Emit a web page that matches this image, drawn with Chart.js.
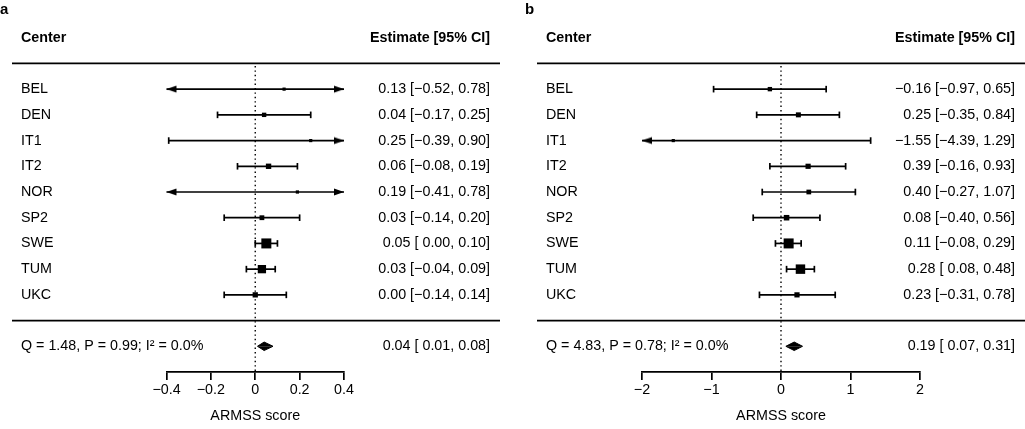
<!DOCTYPE html>
<html lang="en">
<head>
<meta charset="UTF-8">
<title>ARMSS score by center</title>
<script src="https://cdn.jsdelivr.net/npm/chart.js@4.4.1/dist/chart.umd.min.js"></script>
<style>
  body { margin: 0; background: #fff; }
  #wrap { position: relative; width: 1025px; height: 429px; }
  .panel { position: absolute; top: 0; width: 500px; height: 429px; }
  .tag { position: absolute; left: 0; top: 1px; font: bold 15px "Liberation Sans", Arial, sans-serif; line-height: 15px; }
</style>
</head>
<body>
<div id="wrap">
  <div class="panel" style="left:0"><canvas id="chartA" width="500" height="429"></canvas><div class="tag">a</div></div>
  <div class="panel" style="left:525px"><canvas id="chartB" width="500" height="429"></canvas><div class="tag">b</div></div>
</div>
<script>
const centers = ['BEL', 'DEN', 'IT1', 'IT2', 'NOR', 'SP2', 'SWE', 'TUM', 'UKC'];

// panel a
const estA  = [0.13, 0.04, 0.25, 0.06, 0.19, 0.03, 0.05, 0.03, 0.00];
const lowA  = [-0.52, -0.17, -0.39, -0.08, -0.41, -0.14, 0.00, -0.04, -0.14];
const highA = [0.78, 0.25, 0.90, 0.19, 0.78, 0.20, 0.10, 0.09, 0.14];
const pooledA = [0.04, 0.01, 0.08];   // estimate, lower, upper
const hetA = 'Q = 1.48, P = 0.99; I² = 0.0%';
const ticksA = [-0.4, -0.2, 0, 0.2, 0.4];
const tickLabelsA = ['−0.4', '−0.2', '0', '0.2', '0.4'];

// panel b
const estB  = [-0.16, 0.25, -1.55, 0.39, 0.40, 0.08, 0.11, 0.28, 0.23];
const lowB  = [-0.97, -0.35, -4.39, -0.16, -0.27, -0.40, -0.08, 0.08, -0.31];
const highB = [0.65, 0.84, 1.29, 0.93, 1.07, 0.56, 0.29, 0.48, 0.78];
const pooledB = [0.19, 0.07, 0.31];
const hetB = 'Q = 4.83, P = 0.78; I² = 0.0%';
const ticksB = [-2, -1, 0, 1, 2];
const tickLabelsB = ['−2', '−1', '0', '1', '2'];

const FONT = '"Liberation Sans", Arial, Helvetica, sans-serif';
const FS = 14.3;
const LW = 1.7;
Chart.defaults.font.family = FONT;
Chart.defaults.color = '#000';

// rows: header -1, line 0, centers 1..9, line 10, pooled 11, axis 12
const HEAD = -1, POOL = 11;
const labelRows = [HEAD].concat(centers.map((c, i) => i + 1), [POOL]);

const num = v => (v < 0 ? '−' : '') + Math.abs(v).toFixed(2);
const ciText = (e, l, h) => num(e) + ' [' + (l >= 0 ? ' ' : '') + num(l) + ', ' + num(h) + ']';

function arrowHead() {
  const c = document.createElement('canvas');
  c.width = 22; c.height = 10;
  const g = c.getContext('2d');
  g.fillStyle = '#000';
  g.beginPath(); g.moveTo(11, 5); g.lineTo(1, 1.5); g.lineTo(1, 8.5); g.closePath(); g.fill();
  return c;
}
const arrow = arrowHead();

const separators = {
  id: 'separators',
  afterDraw(chart) {
    const ctx = chart.ctx, y = chart.scales.y;
    ctx.save();
    ctx.strokeStyle = '#000';
    ctx.lineWidth = LW;
    [0, 10].forEach(r => {
      const py = y.getPixelForValue(r);
      ctx.beginPath(); ctx.moveTo(12, py); ctx.lineTo(chart.width, py); ctx.stroke();
    });
    ctx.restore();
  }
};

function forest(id, est, low, high, pooled, het, ticks, tickLabels, leftW, rightW) {
  const xmin = ticks[0], xmax = ticks[ticks.length - 1];
  // box size follows precision (1 / CI width), like metafor
  const prec = low.map((l, i) => 1 / (high[i] - l));
  const pmin = Math.min(...prec), pmax = Math.max(...prec);
  const sides = prec.map(p => 3.2 + 6.8 * (p - pmin) / (pmax - pmin));

  const ciSets = centers.map((c, i) => {
    const cutL = low[i] < xmin, cutR = high[i] > xmax;
    return {
      data: [{x: Math.max(low[i], xmin), y: i + 1}, {x: Math.min(high[i], xmax), y: i + 1}],
      borderColor: '#000', borderWidth: LW,
      pointStyle: [cutL ? arrow : 'line', cutR ? arrow : 'line'],
      pointRotation: [cutL ? 180 : 90, cutR ? 0 : 90],
      pointRadius: 3.3, pointBorderWidth: LW,
      pointBorderColor: '#000', pointBackgroundColor: '#000',
      clip: false, order: 2
    };
  });

  const dh = 0.165;
  const diamond = [-dh, dh].map(d => ({
    data: [{x: pooled[1], y: POOL}, {x: pooled[0], y: POOL + d}, {x: pooled[2], y: POOL}],
    fill: {value: POOL}, backgroundColor: '#000', borderColor: '#000', borderWidth: 1,
    pointRadius: 0, clip: false, order: 1
  }));

  const refLine = {
    data: [{x: 0, y: 0.1}, {x: 0, y: 12}],
    borderColor: '#000', borderWidth: 1.4, borderDash: [1.4, 3],
    pointRadius: 0, clip: false, order: 3
  };

  const boxes = {
    data: est.map((e, i) => ({x: e, y: i + 1})),
    showLine: false, pointStyle: 'rect',
    pointRadius: sides.map(s => s / (2 * Math.SQRT1_2)),
    pointBackgroundColor: '#000', pointBorderWidth: 0,
    clip: false, order: 0
  };

  const leftText = {[HEAD]: 'Center', [POOL]: het};
  const rightText = {[HEAD]: 'Estimate [95% CI]', [POOL]: ciText(pooled[0], pooled[1], pooled[2])};
  centers.forEach((c, i) => {
    leftText[i + 1] = c;
    rightText[i + 1] = ciText(est[i], low[i], high[i]);
  });

  const tickFont = ctx => ({family: FONT, size: FS, weight: ctx.tick && ctx.tick.value === HEAD ? 'bold' : 'normal'});
  // mirrored labels are not clipped to the axis box; the padding moves them to its outer edge
  const rowAxis = (pos, width, text) => ({
    type: 'linear', position: pos, reverse: true, min: -2, max: 12,
    afterFit: s => { s.width = width; s.paddingTop = 0; s.paddingBottom = 0; },
    afterBuildTicks: s => { s.ticks = labelRows.map(v => ({value: v})); },
    ticks: { autoSkip: false, mirror: true, crossAlign: 'near',
             padding: pos === 'left' ? -width : width, color: '#000',
             font: tickFont, callback: v => text[v] },
    grid: { display: false },
    border: { display: false }
  });

  return new Chart(document.getElementById(id), {
    type: 'line',
    data: { datasets: [refLine, ...ciSets, ...diamond, boxes] },
    plugins: [separators],
    options: {
      responsive: false,
      animation: false,
      devicePixelRatio: 1,
      events: [],
      layout: { padding: {left: 21, right: 10, top: 12, bottom: 0} },
      plugins: { legend: {display: false}, tooltip: {enabled: false} },
      scales: {
        x: {
          type: 'linear', min: xmin, max: xmax,
          afterFit: s => { s.height = 57; },
          afterBuildTicks: s => { s.ticks = ticks.map(v => ({value: v})); },
          ticks: { autoSkip: false, maxRotation: 0, padding: 1, color: '#000',
                   font: {size: FS}, callback: (v, i) => tickLabels[i] },
          grid: { drawOnChartArea: false, drawTicks: true, tickLength: 8,
                  color: '#000', tickColor: '#000', tickWidth: LW, lineWidth: LW },
          border: { display: true, color: '#000', width: LW },
          title: { display: true, text: 'ARMSS score', color: '#000', font: {size: FS},
                   padding: {top: 0, bottom: 4} }
        },
        y: rowAxis('left', leftW, leftText),
        y2: rowAxis('right', rightW, rightText)
      }
    }
  });
}

forest('chartA', estA, lowA, highA, pooledA, hetA, ticksA, tickLabelsA, 145.5, 146);
forest('chartB', estB, lowB, highB, pooledB, hetB, ticksB, tickLabelsB, 96, 95);
</script>
</body>
</html>
